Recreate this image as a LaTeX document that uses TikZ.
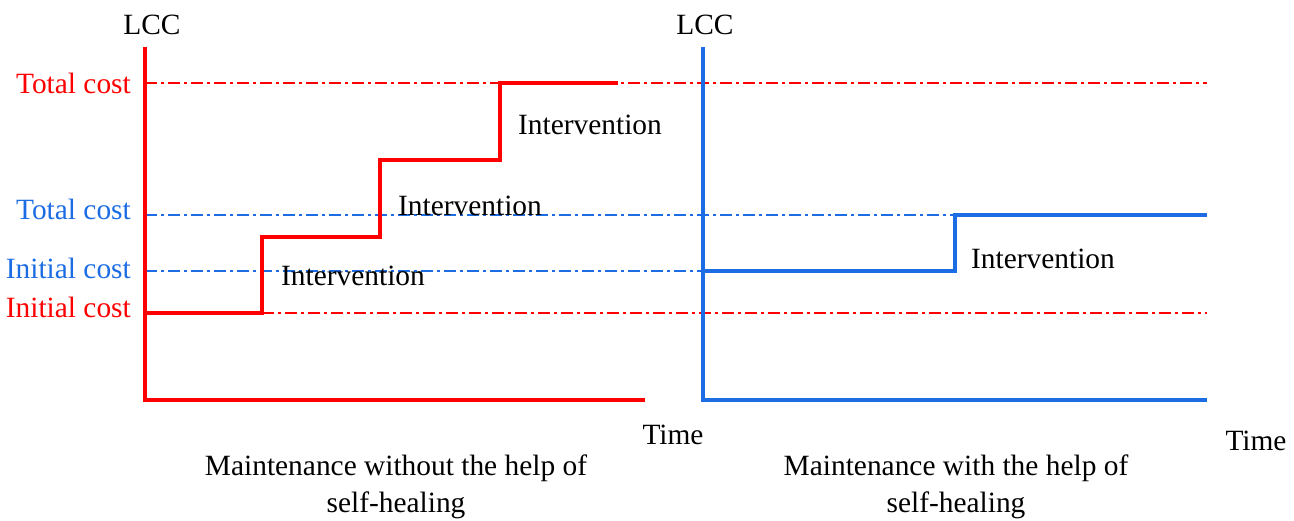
\documentclass[tikz,border=0pt]{standalone}
\usepackage{fontspec}
\setmainfont{Liberation Serif}
\definecolor{myblue}{RGB}{28,108,228}
\definecolor{myred}{RGB}{255,0,0}
\tikzset{
  axisline/.style={line width=3.6pt},
  stepline/.style={line width=3.6pt, line join=miter},
  dd/.style={line width=1.3pt, dash pattern=on 12pt off 4pt on 3pt off 4pt},
  lbl/.style={font=\fontsize{29.4}{34}\selectfont, inner sep=0pt},
}
\begin{document}
\begin{tikzpicture}[x=1pt,y=-1pt]
\useasboundingbox (0,0) rectangle (1294,520);
% coordinates
\coordinate (LA) at (145,47);
\coordinate (LO) at (145,400);
\coordinate (LX) at (645,400);
\coordinate (RA) at (703,47);
\coordinate (RO) at (703,400);
\coordinate (RX) at (1207,400);
% dash-dot guide lines
\draw[dd, myred] (145,83) -- (1207,83);
\draw[dd, myred] (262,313) -- (1207,313);
\draw[dd, myblue] (145,215) -- (955,215);
\draw[dd, myblue] (145,271) -- (703,271);
% red chart
\draw[stepline, myred] (145,313) -- (262,313) -- (262,237) -- (380,237) -- (380,160) -- (500,160) -- (500,83) -- (618,83);
\draw[axisline, myred, line join=miter] (LA) -- (LO) -- (LX);
% blue chart
\draw[stepline, myblue] (703,271) -- (955,271) -- (955,215) -- (1207,215);
\draw[axisline, myblue, line join=miter] (RA) -- (RO) -- (RX);
% labels
\node[lbl] (lcc1) at (152,25) {LCC};
\node[lbl] (lcc2) at (705,25) {LCC};
\node[lbl, myred, anchor=east] (tc1) at (131,83) {Total cost};
\node[lbl, myblue, anchor=east] (tc2) at (131,209) {Total cost};
\node[lbl, myblue, anchor=east] (ic2) at (131,268) {Initial cost};
\node[lbl, myred, anchor=east] (ic1) at (131,307) {Initial cost};
\node[lbl] (iv1) at (590,125) {Intervention};
\node[lbl] (iv2) at (470,206) {Intervention};
\node[lbl] (iv3) at (353,276) {Intervention};
\node[lbl] (iv4) at (1043,259) {Intervention};
\node[lbl] (t1) at (673,435) {Time};
\node[lbl] (t2) at (1256,441) {Time};
\node[lbl, align=center] (c1) at (396,487) {Maintenance without the help of\\[3pt]self-healing};
\node[lbl, align=center] (c2) at (956,487) {Maintenance with the help of\\[3pt]self-healing};
\end{tikzpicture}
\end{document}
